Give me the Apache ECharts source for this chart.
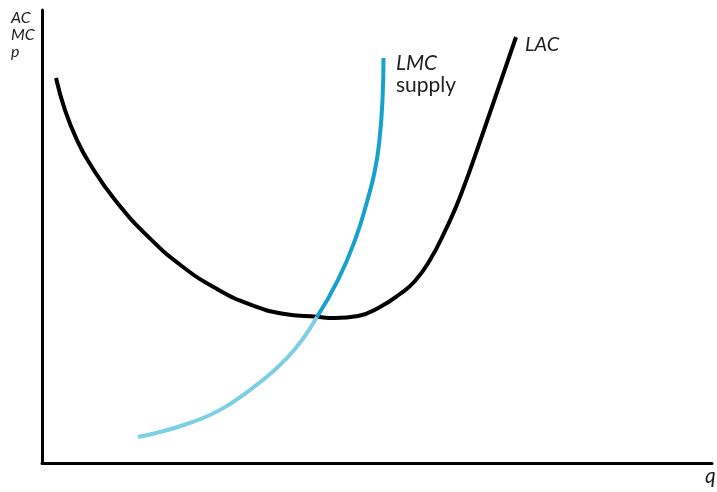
<!DOCTYPE html>
<html>
<head>
<meta charset="utf-8">
<script src="https://cdn.jsdelivr.net/npm/echarts@6/dist/echarts.min.js"></script>
<style>html,body{margin:0;padding:0;background:#fff}#c{width:717px;height:492px}</style>
</head>
<body>
<div id="c"></div>
<script>
// LAC curve (q, cost)
const lacX = [2.09, 3.43, 5.22, 7.16, 10.90, 16.12, 21.04, 26.12, 31.04, 35.97, 41.04, 43.73, 47.16, 50.45, 53.43, 55.67, 57.91, 60.15, 62.39, 65.97, 70.75];
const lacY = [84.99, 77.92, 71.30, 66.00, 58.06, 49.56, 43.27, 38.41, 34.99, 32.96, 32.27, 32.01, 32.45, 34.44, 37.31, 40.18, 44.81, 51.21, 58.72, 73.51, 94.04];
// LMC lower (light) part
const lmcLowX = [14.33, 17.61, 21.64, 25.07, 28.06, 31.04, 34.03, 36.27, 38.81, 41.04];
const lmcLowY = [5.74, 6.84, 8.61, 10.60, 13.02, 16.11, 19.65, 22.74, 27.15, 32.23];
// LMC upper (supply, dark) part
const lmcHighX = [41.04, 44.18, 46.72, 48.58, 49.70, 50.37, 50.82, 50.97];
const lmcHighY = [32.23, 40.40, 49.23, 58.06, 64.68, 71.30, 80.13, 89.40];

const zip = (xs, ys) => xs.map((x, i) => [x, ys[i]]);
const font = 'Lato, "Open Sans", sans-serif';

const chart = echarts.init(document.getElementById('c'), null, {renderer: 'canvas'});
chart.setOption({
  animation: false,
  grid: {left: 42, right: 5, top: 10, bottom: 29},
  xAxis: {type: 'value', min: 0, max: 100,
    axisLine: {lineStyle: {color: '#000', width: 3}},
    axisTick: {show: false}, axisLabel: {show: false}, splitLine: {show: false}},
  yAxis: {type: 'value', min: 0, max: 100,
    axisLine: {show: true, lineStyle: {color: '#000', width: 3}},
    axisTick: {show: false}, axisLabel: {show: false}, splitLine: {show: false}},
  series: [
    {type: 'line', data: zip(lacX, lacY), smooth: 0.5, showSymbol: false,
      lineStyle: {color: '#000', width: 4}},
    {type: 'line', data: zip(lmcLowX, lmcLowY), smooth: 0.5, showSymbol: false,
      lineStyle: {color: '#7ccfe4', width: 4}},
    {type: 'line', data: zip(lmcHighX, lmcHighY), smooth: 0.5, showSymbol: false,
      lineStyle: {color: '#16a2cc', width: 4}}
  ],
  graphic: [
    {type: 'text', left: 11, top: 9, style: {text: 'AC\nMC\np', font: 'italic 16px ' + font, fill: '#222', lineHeight: 17}},
    {type: 'text', left: 396, top: 53, style: {text: 'LMC', font: 'italic 21px ' + font, fill: '#222'}},
    {type: 'text', left: 396, top: 75, style: {text: 'supply', font: '21px ' + font, fill: '#222'}},
    {type: 'text', left: 525, top: 35, style: {text: 'LAC', font: 'italic 20px ' + font, fill: '#222'}},
    {type: 'text', left: 705, top: 466, style: {text: 'q', font: 'italic 21px ' + font, fill: '#222'}}
  ]
});
</script>
</body>
</html>
